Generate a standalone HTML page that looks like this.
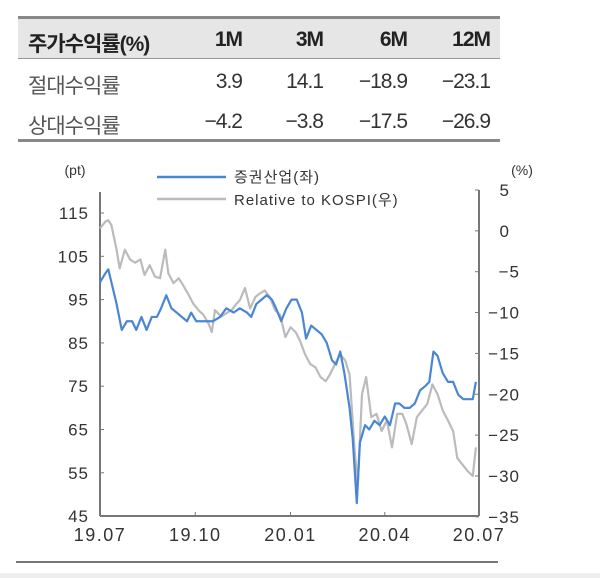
<!DOCTYPE html>
<html><head><meta charset="utf-8"><style>
body{margin:0;width:600px;height:578px;background:#fff;position:relative;overflow:hidden;font-family:"Liberation Sans","Noto Sans CJK KR",sans-serif;color:#333}
.t{position:absolute;font-size:21px;letter-spacing:-1px}
</style></head><body>
<div style="position:absolute;left:18px;top:16px;width:482px;height:126px">
<div style="position:absolute;left:0;top:0;width:482px;height:3px;background:#888"></div>
<div style="position:absolute;left:0;top:3px;width:482px;height:39px;background:#e6e6e6;border-bottom:1px solid #999"></div>
<div style="position:absolute;left:0;top:123px;width:482px;height:3px;background:#888"></div>
</div>
<div class="t" style="left:28px;top:28px;font-weight:bold;color:#222">주가수익률(%)</div>
<div class="t" style="right:358px;top:28px;font-weight:bold;color:#222">1M</div>
<div class="t" style="right:277px;top:28px;font-weight:bold;color:#222">3M</div>
<div class="t" style="right:193px;top:28px;font-weight:bold;color:#222">6M</div>
<div class="t" style="right:110px;top:28px;font-weight:bold;color:#222">12M</div>
<div class="t" style="left:28px;top:70px;color:#555">절대수익률</div>
<div class="t" style="right:358px;top:70px">3.9</div>
<div class="t" style="right:277px;top:70px">14.1</div>
<div class="t" style="right:193px;top:70px">−18.9</div>
<div class="t" style="right:110px;top:70px">−23.1</div>
<div class="t" style="left:28px;top:110px;color:#555">상대수익률</div>
<div class="t" style="right:358px;top:110px">−4.2</div>
<div class="t" style="right:277px;top:110px">−3.8</div>
<div class="t" style="right:193px;top:110px">−17.5</div>
<div class="t" style="right:110px;top:110px">−26.9</div>
<div style="position:absolute;left:16px;top:561px;width:482px;height:2px;background:#777"></div>
<div style="position:absolute;left:0;top:573px;width:600px;height:5px;background:#eee"></div>
<svg id="chart" width="600" height="578" style="position:absolute;left:0;top:0" font-family="Liberation Sans, Noto Sans CJK KR, sans-serif"></svg>
<script>
const blueDays=[0,5,8,11,16,21,26,31,35,40,45,50,55,59,64,69,74,79,84,88,93,98,103,109,116,122,129,135,142,146,151,156,161,166,170,175,180,185,190,195,199,204,209,214,219,224,228,232,236,241,244,248,251,256,260,265,270,275,280,285,289,294,299,304,309,314,318,322,326,331,336,341,346,351,355,360,363];
const blueVals=[99,101,102,99,94,88,90,90,88,91,88,91,91,93,96,93,92,91,90,92,90,90,90,90,91,93,92,93,92,91,94,95,96,95,93,90,93,95,95,92,86,89,88,87,85,81,80,83,78,70,63,48,62,66,65,67,66,68,66,71,71,70,70,71,74,75,76,83,82,78,76,76,73,72,72,72,76];
const grayDays=[0,5,8,11,16,19,24,29,34,39,43,48,53,58,63,66,71,76,80,85,90,95,100,105,108,111,117,122,127,132,135,140,145,150,154,159,164,169,174,179,184,189,193,198,203,208,213,218,222,227,232,237,241,246,249,253,257,262,267,272,277,282,287,292,296,301,306,311,316,321,326,331,336,341,345,350,355,360,363];
const grayVals=[0.3,1.1,1.3,0.7,-2.3,-4.6,-2.3,-3.5,-3.9,-3.5,-5.4,-4.2,-5.6,-5.8,-2.3,-5.2,-6.4,-5.8,-6.6,-7.7,-8.9,-9.7,-10.3,-11.4,-12.4,-9.7,-10.5,-10.1,-9.7,-8.9,-8.5,-7.0,-9.5,-8.1,-7.7,-7.3,-8.1,-9.7,-10.3,-13,-11.8,-12.4,-13.4,-15.1,-16.3,-16.7,-17.9,-18.4,-17.6,-16.3,-15.1,-15.9,-17.6,-27,-31,-20,-17.9,-22.8,-22.4,-24.5,-23.2,-26.5,-22.4,-22.4,-23.7,-26.1,-22.8,-22,-21.2,-18.8,-20,-22,-23.2,-24.5,-27.8,-28.6,-29.4,-30,-26.5];
const leftTicks=[115,105,95,85,75,65,55,45];
const rightTicks=[5,0,-5,-10,-15,-20,-25,-30,-35];
const xTickLabels=["19.07","19.10","20.01","20.04","20.07"];
const xTickDays=[0,92,184,275,366];

const svg=document.getElementById('chart');
const NS='http://www.w3.org/2000/svg';
const X0=100,X1=479,YB=516;
const xs=d=>X0+d/366*(X1-X0);
const yl=v=>213+(115-v)*4.33;
const yr=v=>190+(5-v)*8.17;
function mk(tag,attrs,parent){const e=document.createElementNS(NS,tag);for(const k in attrs)e.setAttribute(k,attrs[k]);(parent||svg).appendChild(e);return e;}
function txt(s,x,y,anchor,size,fill,ls){const t=mk('text',{x:x,y:y,'text-anchor':anchor,'font-size':size,fill:fill||'#333','letter-spacing':ls||0});t.textContent=s;return t;}

let e;
e=mk('line',{x1:X0,y1:192,x2:X0,y2:YB,stroke:'#777','stroke-width':2});


e=mk('line',{x1:X1,y1:190,x2:X1,y2:YB,stroke:'#777','stroke-width':2});


e=mk('line',{x1:X0,y1:YB,x2:X1,y2:YB,stroke:'#777','stroke-width':2});



leftTicks.forEach(v=>{
  const y=yl(v);
  mk('line',{x1:X0,y1:y,x2:X0+4,y2:y,stroke:'#777'});
  e=txt(String(v),89,y+6,'end',17,'#333',1);
  
  
});
rightTicks.forEach(v=>{
  const y=yr(v);
  mk('line',{x1:X1-4,y1:y,x2:X1,y2:y,stroke:'#777'});
  e=txt(v<0?'−'+(-v):String(v),v<0?520:510,y+6,'end',17,'#333',1);
  
  
});
xTickLabels.forEach((s,i)=>{
  const x=xs(xTickDays[i]);
  mk('line',{x1:x,y1:YB-4,x2:x,y2:YB,stroke:'#777'});
  e=txt(s,x,541,'middle',18,'#333',1.5);
  
  
});
e=txt('(pt)',75,175,'middle',14);


e=txt('(%)',522,175,'middle',14);



e=mk('polyline',{points:grayDays.map((d,i)=>xs(d)+','+yr(grayVals[i])).join(' '),fill:'none',stroke:'#bbb','stroke-width':2.2,'stroke-linejoin':'round'});


e=mk('polyline',{points:blueDays.map((d,i)=>xs(d)+','+yl(blueVals[i])).join(' '),fill:'none',stroke:'#4a86d4','stroke-width':2.2,'stroke-linejoin':'round'});



e=mk('line',{x1:157,y1:177,x2:226,y2:177,stroke:'#4a86d4','stroke-width':2.5});


e=txt('증권산업(좌)',234,182,'start',15,'#333',1);


e=mk('line',{x1:157,y1:199,x2:226,y2:199,stroke:'#bbb','stroke-width':2.5});


e=txt('Relative to KOSPI(우)',234,205,'start',15,'#333',1);


</script>
</body></html>
